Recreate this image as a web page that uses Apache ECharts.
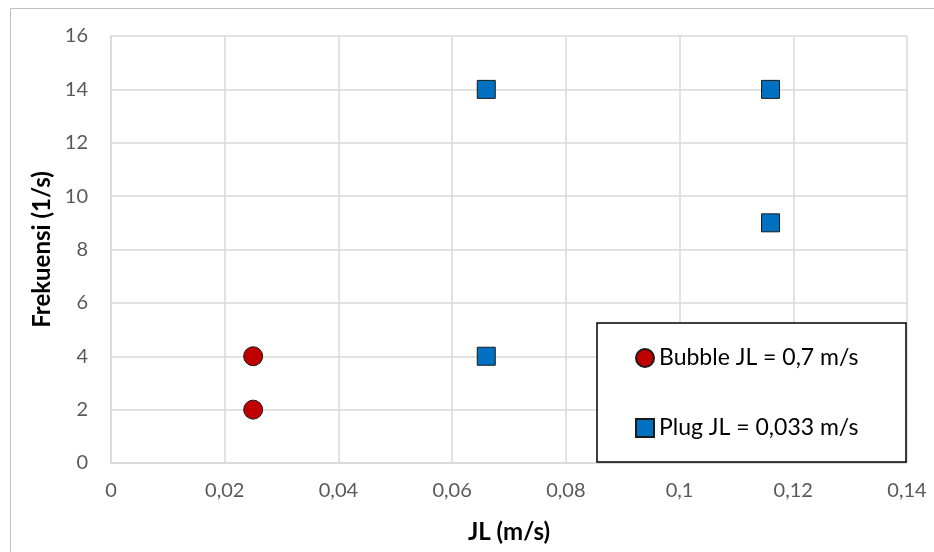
<!DOCTYPE html>
<html>
<head>
<meta charset="utf-8">
<script src="https://cdn.jsdelivr.net/npm/echarts@6/dist/echarts.min.js"></script>
<style>
  html, body { margin: 0; padding: 0; background: #fff; }
  #myChart { width: 934px; height: 552px; }
</style>
</head>
<body>
<div id="myChart"></div>
<script>
  // data
  var bubbleName = 'Bubble JL = 0,7 m/s';
  var bubbleJL = [0.025, 0.025];
  var bubbleFreq = [4, 2];

  var plugName = 'Plug JL = 0,033 m/s';
  var plugJL = [0.066, 0.066, 0.116, 0.116];
  var plugFreq = [14, 4, 14, 9];

  var xTicks = [0, 0.02, 0.04, 0.06, 0.08, 0.1, 0.12, 0.14];
  var yTicks = [0, 2, 4, 6, 8, 10, 12, 14, 16];

  function pairs(xs, ys) {
    return xs.map(function (x, i) { return [x, ys[i]]; });
  }

  var font = 'Lato, "Open Sans", sans-serif';

  var myChart = echarts.init(document.getElementById('myChart'));
  var option = {
    backgroundColor: '#fff',
    animation: false,
    grid: {
      left: 111,
      right: 27,
      top: 36,
      bottom: 89
    },
    graphic: [
      {
        type: 'rect',
        shape: { x: 10.5, y: 8.5, width: 940, height: 560 },
        style: { fill: 'none', stroke: '#bfbfbf', lineWidth: 1 },
        z: 0
      },
      {
        type: 'rect',
        shape: { x: 597, y: 323, width: 309, height: 139 },
        style: { fill: '#fff', stroke: '#000', lineWidth: 1.5 },
        z: 10
      }
    ],
    legend: {
      orient: 'vertical',
      left: 635,
      top: 346,
      padding: 0,
      itemGap: 46,
      itemWidth: 18,
      itemHeight: 18,
      z: 11,
      textStyle: { fontFamily: font, fontSize: 23, lineHeight: 24, color: '#000' },
      data: [
        { name: bubbleName, icon: 'circle' },
        { name: plugName, icon: 'rect' }
      ]
    },
    xAxis: {
      type: 'value',
      min: 0,
      max: 0.14,
      interval: 0.02,
      name: 'JL (m/s)',
      nameLocation: 'middle',
      nameGap: 57,
      nameTextStyle: { fontFamily: font, fontSize: 24, fontWeight: 'bold', color: '#000' },
      axisLine: { show: true, lineStyle: { color: '#d9d9d9', width: 1.5 } },
      axisTick: { show: false },
      splitLine: { show: true, lineStyle: { color: '#d9d9d9', width: 1.5 } },
      axisLabel: {
        fontFamily: font,
        fontSize: 20,
        color: '#595959',
        margin: 18,
        formatter: function (v) { return String(v).replace('.', ','); }
      }
    },
    yAxis: {
      type: 'value',
      min: 0,
      max: 16,
      interval: 2,
      name: 'Frekuensi (1/s)',
      nameLocation: 'middle',
      nameGap: 54,
      nameTextStyle: { fontFamily: font, fontSize: 24, fontWeight: 'bold', color: '#000' },
      axisLine: { show: true, lineStyle: { color: '#d9d9d9', width: 1.5 } },
      axisTick: { show: false },
      splitLine: { show: true, lineStyle: { color: '#d9d9d9', width: 1.5 } },
      axisLabel: {
        fontFamily: font,
        fontSize: 20,
        color: '#595959',
        margin: 23
      }
    },
    series: [
      {
        name: bubbleName,
        type: 'scatter',
        symbol: 'circle',
        symbolSize: 19,
        itemStyle: { color: '#c00000', opacity: 1, borderColor: '#1a1a1a', borderWidth: 1 },
        data: pairs(bubbleJL, bubbleFreq),
        z: 5
      },
      {
        name: plugName,
        type: 'scatter',
        symbol: 'rect',
        symbolSize: 18,
        itemStyle: { color: '#0070c0', opacity: 1, borderColor: '#1a1a1a', borderWidth: 1 },
        data: pairs(plugJL, plugFreq),
        z: 5
      }
    ]
  };
  myChart.setOption(option, true);
</script>
</body>
</html>
